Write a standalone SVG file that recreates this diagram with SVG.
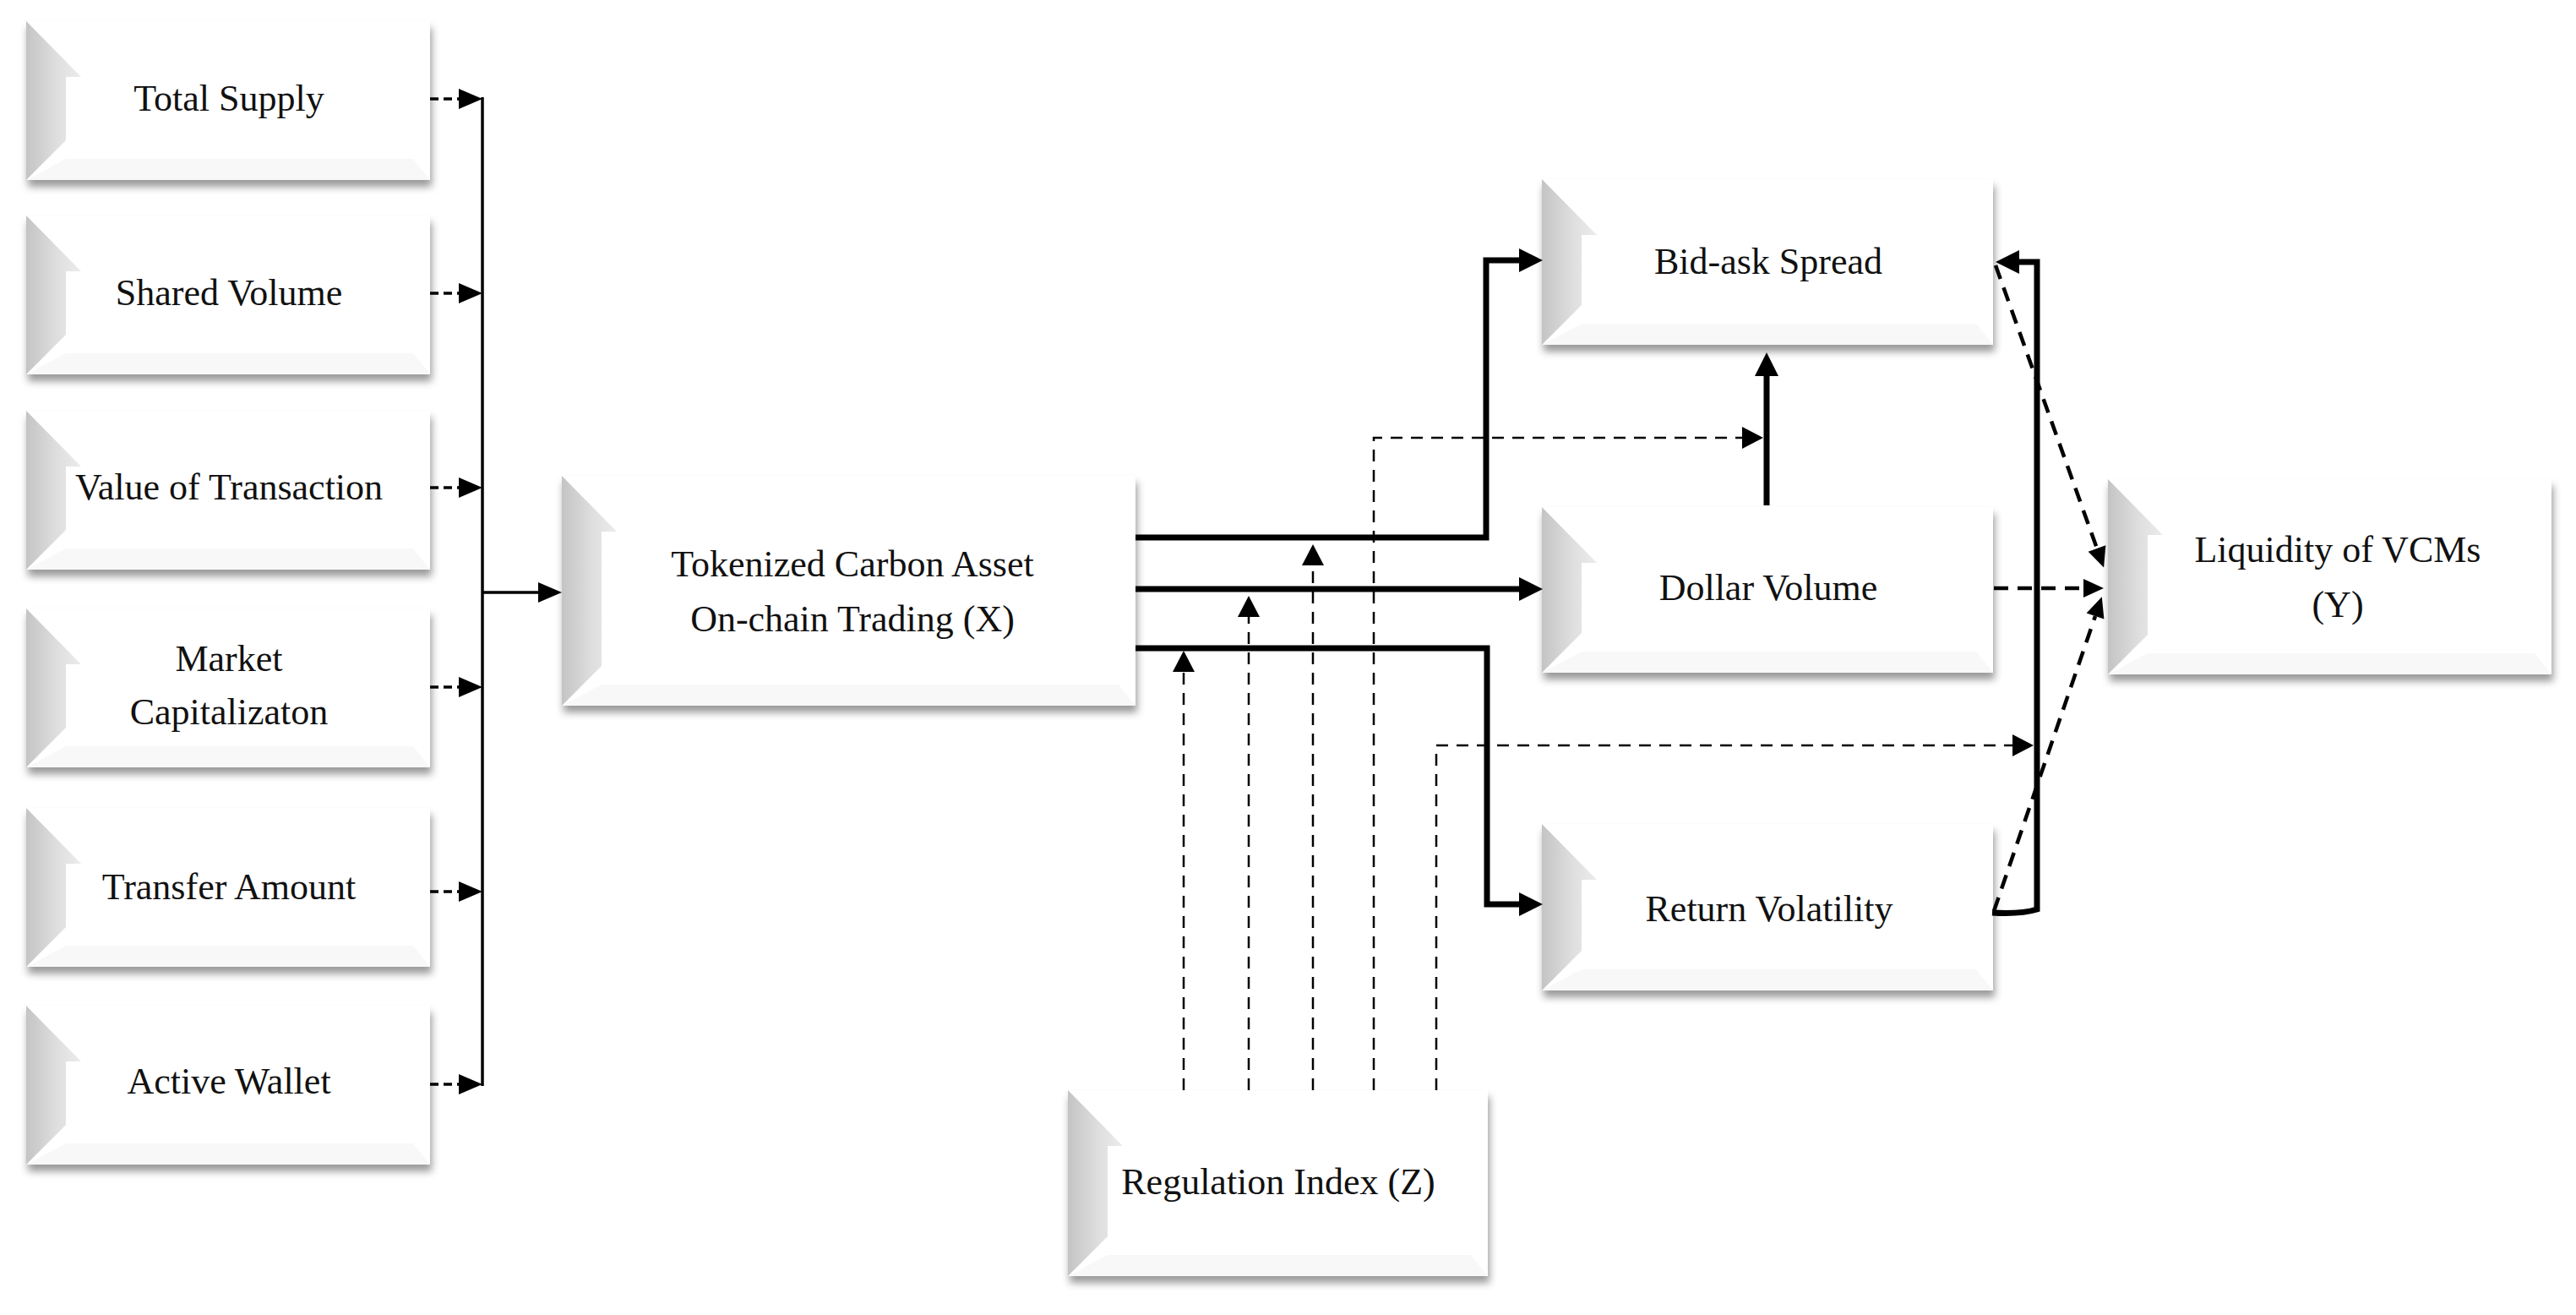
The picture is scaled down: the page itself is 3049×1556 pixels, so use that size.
<svg xmlns="http://www.w3.org/2000/svg" width="3049" height="1556" viewBox="0 0 3049 1556">
<defs>
<style>
.box{fill:#fff;filter:url(#sh);}
.bev{fill:url(#gl);}
.bot{fill:#f8f8f8;}
text{font-family:"Liberation Serif","Times New Roman",serif;font-size:44px;fill:#111;text-anchor:middle;}
.thin{stroke:#000;stroke-width:3.5;fill:none;}
.dsh{stroke-dasharray:10 6;}
.thick{stroke:#000;stroke-width:7;fill:none;stroke-linejoin:miter;}
.zd{stroke:#000;stroke-width:2.5;stroke-dasharray:14 10;fill:none;}
.ld{stroke:#000;stroke-width:4.5;stroke-dasharray:17 11;fill:none;}
</style>
<filter id="sh" x="-10%" y="-15%" width="125%" height="145%">
<feDropShadow dx="2" dy="8" stdDeviation="5" flood-color="#000" flood-opacity="0.4"/>
</filter>
<linearGradient id="gl" x1="0" y1="0" x2="1" y2="0">
<stop offset="0" stop-color="#c4c4c4"/>
<stop offset="0.55" stop-color="#dedede"/>
<stop offset="1" stop-color="#ececec"/>
</linearGradient>
<marker id="aThin" markerUnits="userSpaceOnUse" markerWidth="30" markerHeight="24" refX="0" refY="12" orient="auto" overflow="visible"><path d="M0,0 L28,12 L0,24 Z" fill="#000"/></marker>
<marker id="aThick" markerUnits="userSpaceOnUse" markerWidth="30" markerHeight="28" refX="0" refY="14" orient="auto" overflow="visible"><path d="M0,0 L28,14 L0,28 Z" fill="#000"/></marker>
<marker id="aZ" markerUnits="userSpaceOnUse" markerWidth="26" markerHeight="26" refX="0" refY="13" orient="auto" overflow="visible"><path d="M0,0 L25,13 L0,26 Z" fill="#000"/></marker>
<marker id="aL" markerUnits="userSpaceOnUse" markerWidth="26" markerHeight="22" refX="0" refY="11" orient="auto" overflow="visible"><path d="M0,0 L24,11 L0,22 Z" fill="#000"/></marker>
</defs>
<rect width="3049" height="1556" fill="#fff"/>

<g id="n-total-supply">
<rect class="box" x="31" y="25" width="478" height="188"/>
<polygon class="bot" points="78,188 489,188 509,213 31,213"/>
<polygon class="bev" points="31,25 96,91 78,91 78,166 31,213"/>
<text x="271" y="131">Total Supply</text>
</g>
<g id="n-shared-volume">
<rect class="box" x="31" y="255" width="478" height="188"/>
<polygon class="bot" points="78,418 489,418 509,443 31,443"/>
<polygon class="bev" points="31,255 96,321 78,321 78,396 31,443"/>
<text x="271" y="361">Shared Volume</text>
</g>
<g id="n-value-transaction">
<rect class="box" x="31" y="486" width="478" height="188"/>
<polygon class="bot" points="78,649 489,649 509,674 31,674"/>
<polygon class="bev" points="31,486 96,552 78,552 78,627 31,674"/>
<text x="271" y="591">Value of Transaction</text>
</g>
<g id="n-market-cap">
<rect class="box" x="31" y="720" width="478" height="188"/>
<polygon class="bot" points="78,883 489,883 509,908 31,908"/>
<polygon class="bev" points="31,720 96,786 78,786 78,861 31,908"/>
<text x="271" y="794">Market</text>
<text x="271" y="857">Capitalizaton</text>
</g>
<g id="n-transfer-amount">
<rect class="box" x="31" y="956" width="478" height="188"/>
<polygon class="bot" points="78,1119 489,1119 509,1144 31,1144"/>
<polygon class="bev" points="31,956 96,1022 78,1022 78,1097 31,1144"/>
<text x="271" y="1064">Transfer Amount</text>
</g>
<g id="n-active-wallet">
<rect class="box" x="31" y="1190" width="478" height="188"/>
<polygon class="bot" points="78,1353 489,1353 509,1378 31,1378"/>
<polygon class="bev" points="31,1190 96,1256 78,1256 78,1331 31,1378"/>
<text x="271" y="1294">Active Wallet</text>
</g>

<g id="n-tokenized">
<rect class="box" x="665" y="563" width="679" height="272"/>
<polygon class="bot" points="712,810 1324,810 1344,835 665,835"/>
<polygon class="bev" points="665,563 730,629 712,629 712,788 665,835"/>
<text x="1009" y="682">Tokenized Carbon Asset</text>
<text x="1009" y="747">On-chain Trading (X)</text>
</g>

<g id="n-bid-ask">
<rect class="box" x="1825" y="212" width="534" height="196"/>
<polygon class="bot" points="1872,383 2339,383 2359,408 1825,408"/>
<polygon class="bev" points="1825,212 1890,278 1872,278 1872,361 1825,408"/>
<text x="2093" y="324">Bid-ask Spread</text>
</g>
<g id="n-dollar-volume">
<rect class="box" x="1825" y="600" width="534" height="196"/>
<polygon class="bot" points="1872,771 2339,771 2359,796 1825,796"/>
<polygon class="bev" points="1825,600 1890,666 1872,666 1872,749 1825,796"/>
<text x="2093" y="710">Dollar Volume</text>
</g>
<g id="n-return-volatility">
<rect class="box" x="1825" y="975" width="534" height="197"/>
<polygon class="bot" points="1872,1147 2339,1147 2359,1172 1825,1172"/>
<polygon class="bev" points="1825,975 1890,1041 1872,1041 1872,1125 1825,1172"/>
<text x="2094" y="1090">Return Volatility</text>
</g>

<g id="n-liquidity">
<rect class="box" x="2495" y="567" width="525" height="231"/>
<polygon class="bot" points="2542,773 3000,773 3020,798 2495,798"/>
<polygon class="bev" points="2495,567 2560,633 2542,633 2542,751 2495,798"/>
<text x="2767" y="665">Liquidity of VCMs</text>
<text x="2767" y="730">(Y)</text>
</g>

<g id="n-regulation">
<rect class="box" x="1264" y="1290" width="497" height="220"/>
<polygon class="bot" points="1311,1485 1741,1485 1761,1510 1264,1510"/>
<polygon class="bev" points="1264,1290 1329,1356 1311,1356 1311,1463 1264,1510"/>
<text x="1513" y="1413">Regulation Index (Z)</text>
</g>

<g id="connectors">
<path class="thin dsh" d="M509,117 H543" marker-end="url(#aThin)"/>
<path class="thin dsh" d="M509,347 H543" marker-end="url(#aThin)"/>
<path class="thin dsh" d="M509,577 H543" marker-end="url(#aThin)"/>
<path class="thin dsh" d="M509,813 H543" marker-end="url(#aThin)"/>
<path class="thin dsh" d="M509,1055 H543" marker-end="url(#aThin)"/>
<path class="thin dsh" d="M509,1283 H543" marker-end="url(#aThin)"/>
<path class="thin" d="M571,115 V1285"/>
<path class="thin" d="M571,701 H637" marker-end="url(#aThin)"/>

<path class="thick" d="M1344,636 H1759 V308 H1798" marker-end="url(#aThick)"/>
<path class="thick" d="M1344,697 H1798" marker-end="url(#aThick)"/>
<path class="thick" d="M1344,767 H1760 V1070 H1798" marker-end="url(#aThick)"/>
<path class="thick" d="M2091,598 V445" marker-end="url(#aThick)"/>
<path class="thick" d="M2358,1080 Q2392,1082 2411,1076 V310 H2390" marker-end="url(#aThick)"/>

<path class="zd" d="M1401,1290 V795" marker-end="url(#aZ)"/>
<path class="zd" d="M1478,1290 V730" marker-end="url(#aZ)"/>
<path class="zd" d="M1554,1290 V669" marker-end="url(#aZ)"/>
<path class="zd" d="M1626,1290 V518 H2062" marker-end="url(#aZ)"/>
<path class="zd" d="M1700,1290 V882 H2382" marker-end="url(#aZ)"/>

<path class="ld" d="M2362,314 L2482,649" marker-end="url(#aL)"/>
<path class="ld" d="M2360,696 H2466" marker-end="url(#aL)"/>
<path class="ld" d="M2360,1078 L2480,729" marker-end="url(#aL)"/>
</g>
</svg>
